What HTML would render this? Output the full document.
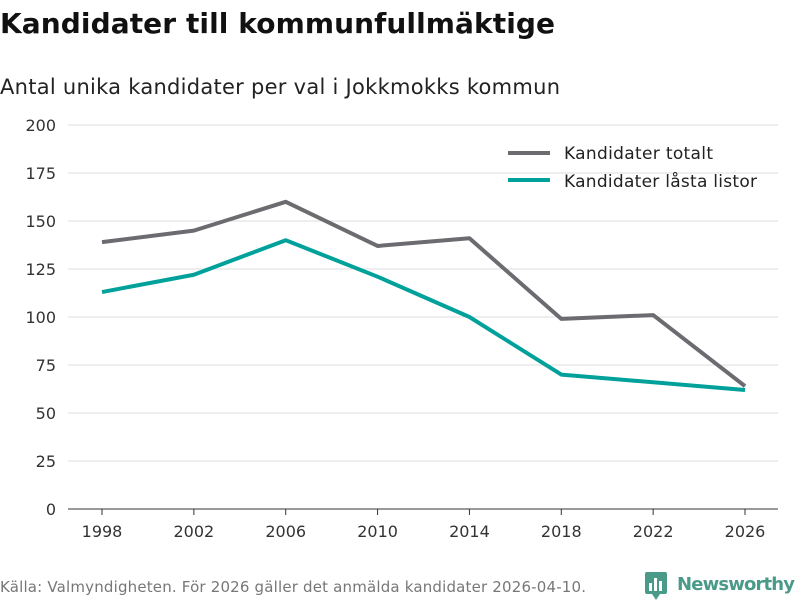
<!DOCTYPE html>
<html><head><meta charset="utf-8"><style>
body{margin:0;background:#fff;font-family:"DejaVu Sans","Liberation Sans",sans-serif;}
</style></head><body>
<svg width="800" height="600" xmlns="http://www.w3.org/2000/svg" font-family="DejaVu Sans, Liberation Sans, sans-serif">
<text x="0" y="33" font-size="28" font-weight="bold" fill="#111" textLength="555">Kandidater till kommunfullmäktige</text>
<text x="0" y="94" font-size="21" fill="#222" textLength="560">Antal unika kandidater per val i Jokkmokks kommun</text>
<g id="grid"></g><g id="axes"></g><g id="lines"></g>
<g>
<line x1="508" y1="153" x2="550" y2="153" stroke="#6b6b70" stroke-width="4"/>
<text x="564" y="159" font-size="17" fill="#222" textLength="149">Kandidater totalt</text>
<line x1="508" y1="180" x2="550" y2="180" stroke="#00a19a" stroke-width="4"/>
<text x="564" y="187" font-size="17" fill="#222" textLength="193">Kandidater låsta listor</text>
</g>
<text x="0" y="592" font-size="15" fill="#777" textLength="586">Källa: Valmyndigheten. För 2026 gäller det anmälda kandidater 2026-04-10.</text>
<g>
<rect x="645" y="572" width="22" height="22" rx="2" fill="#4a9a8a"/>
<polygon points="652,594 660,594 656,600" fill="#4a9a8a"/>
<rect x="649" y="583" width="3" height="8" fill="#fff"/><rect x="654" y="578" width="3" height="13" fill="#fff"/><rect x="659" y="581" width="3" height="10" fill="#fff"/>
<text x="677" y="590" font-size="18" font-weight="bold" fill="#4a9a8a" textLength="118">Newsworthy</text>
</g>
</svg>
<script>
const years=[1998,2002,2006,2010,2014,2018,2022,2026];
const totalt=[139,145,160,137,141,99,101,64];
const lasta=[113,122,140,121,100,70,66,62];
const yTicks=[0,25,50,75,100,125,150,175,200];
const NS="http://www.w3.org/2000/svg";
const x=v=>102+(v-1998)*(745-102)/28;
const y=v=>509-v*1.92;
const grid=document.getElementById('grid'),axes=document.getElementById('axes'),lines=document.getElementById('lines');
function mk(t,a,p){const e=document.createElementNS(NS,t);for(const k in a)e.setAttribute(k,a[k]);p.appendChild(e);return e;}
yTicks.forEach(t=>{
 const l=mk('line',{x1:68,x2:778,y1:y(t),y2:y(t),stroke:t===0?'#333':'#ddd','stroke-width':1},grid);
 
 
 const tx=mk('text',{x:56,y:y(t)+6,'text-anchor':'end','font-size':16,fill:'#333'},axes);
 tx.textContent=t;
 
 
});
years.forEach(yr=>{
 const tk=mk('line',{x1:x(yr),x2:x(yr),y1:509,y2:515,stroke:'#333'},axes);
 
 
 const tx=mk('text',{x:x(yr),y:537,'text-anchor':'middle','font-size':16,fill:'#333'},axes);
 tx.textContent=yr;
 
 
});
function line(vals,col,name){
 const p=mk('polyline',{points:vals.map((v,i)=>x(years[i])+','+y(v)).join(' '),fill:'none',stroke:col,'stroke-width':4,'stroke-linejoin':'round'},lines);
 
 
}
line(totalt,'#6b6b70','line-kandidater-totalt');
line(lasta,'#00a19a','line-kandidater-lasta-listor');
</script>
</body></html>
